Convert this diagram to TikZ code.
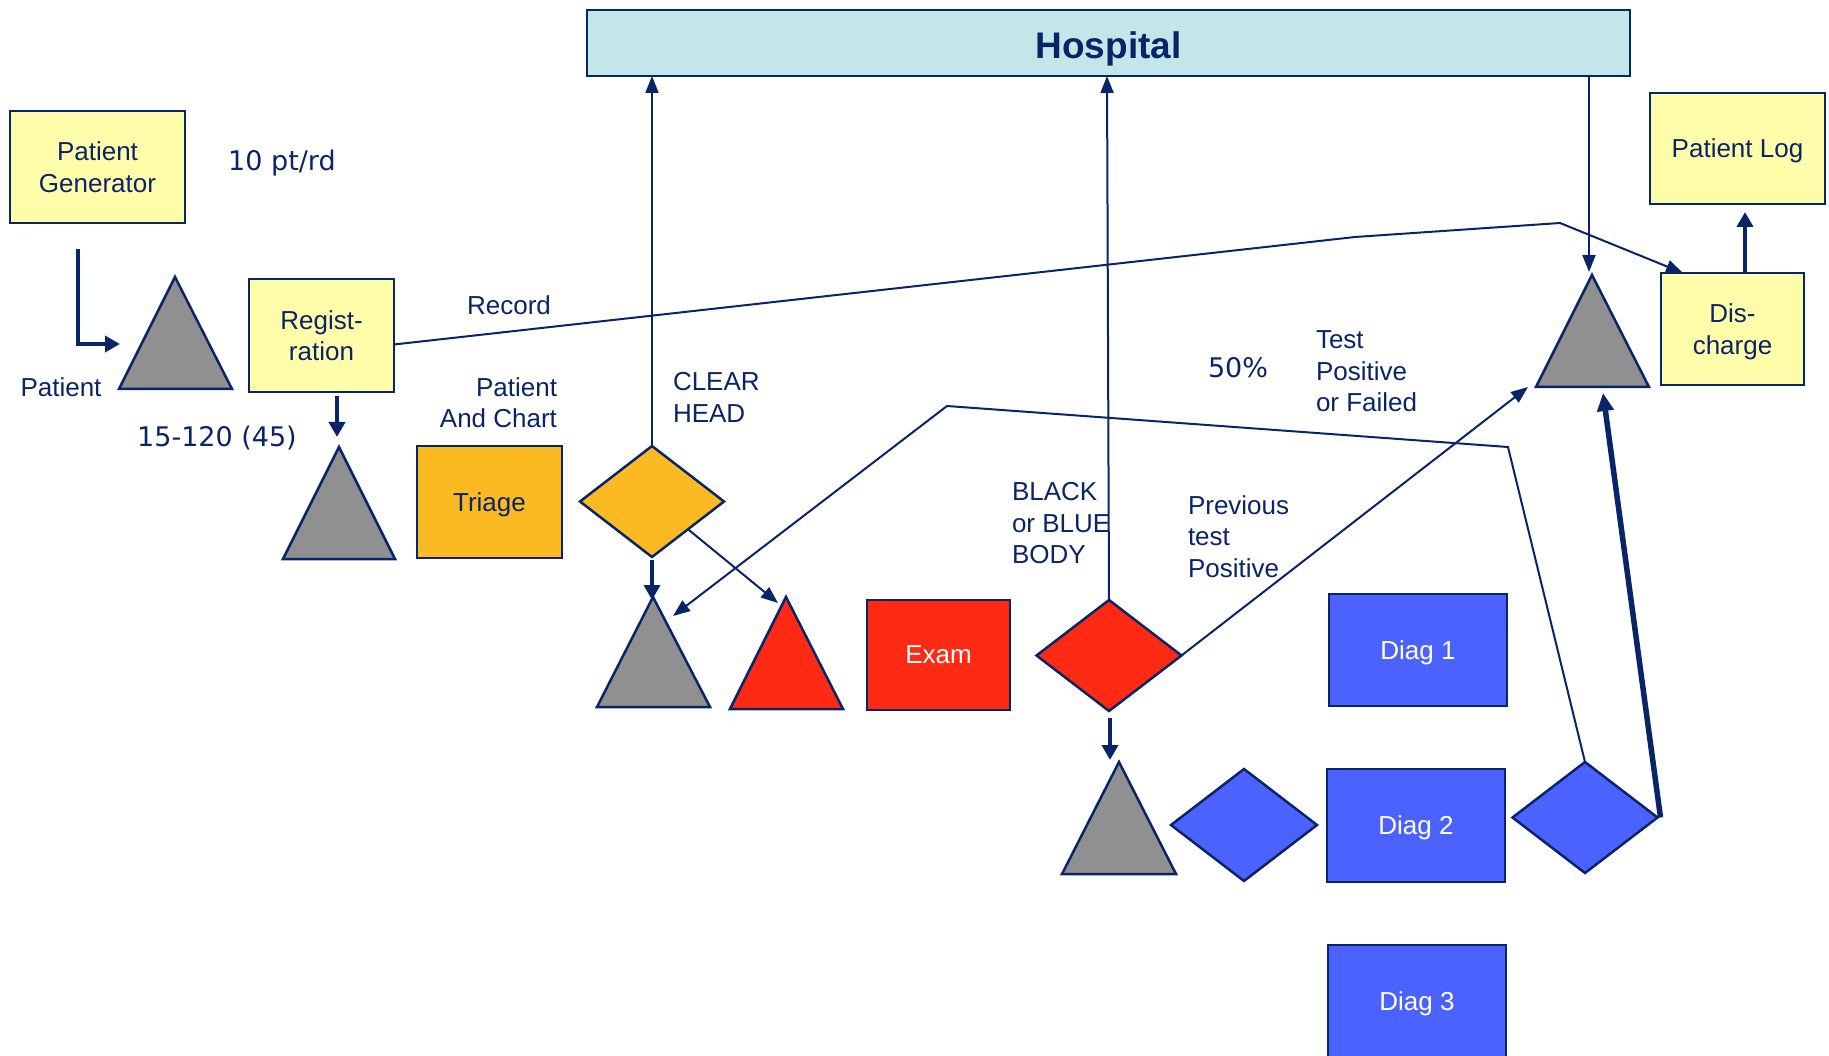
\documentclass[tikz,border=0pt]{standalone}
\usepackage{fontspec}
\setmainfont{Liberation Sans}
\newfontfamily\comicf{DejaVu Sans}
\usetikzlibrary{arrows.meta,shapes.geometric}
\definecolor{navy}{HTML}{0A2468}
\definecolor{ylw}{HTML}{FFFCAA}
\definecolor{hosp}{HTML}{C3E6E8}
\definecolor{orng}{HTML}{FCBA22}
\definecolor{redc}{HTML}{FF2A14}
\definecolor{bluec}{HTML}{4C62FF}
\definecolor{grayc}{HTML}{909090}
\begin{document}
\begin{tikzpicture}[x=1pt,y=-1pt,
  every node/.style={text=navy, font=\fontsize{26}{31.5}\selectfont, inner sep=0pt, outer sep=0pt},
  box/.style={draw=navy, line width=2.5pt, align=center, text depth=0pt},
  dia/.style={diamond, draw=navy, line width=2.5pt},
  tri/.style={draw=navy, line width=2.5pt, fill=grayc, line join=miter},
  thinar/.style={draw=navy, line width=2pt, -{Triangle[length=17pt,width=13pt]}},
  thickar/.style={draw=navy, line width=4.5pt, -{Triangle[length=15pt,width=16pt]}},
  thickerar/.style={draw=navy, line width=5.5pt, -{Triangle[length=18pt,width=16pt]}},
  comic/.style={font=\comicf\fontsize{27}{32}\selectfont}
]
\useasboundingbox (0,0) rectangle (1829,1056);
\clip (0,0) rectangle (1829,1056);

% boxes
\node[box, fill=hosp, minimum width=1043pt, minimum height=66pt] (hosp) at (1108.5,43) {};
\node[font=\bfseries\fontsize{37}{40}\selectfont] (hosptext) at ([yshift=-6pt]hosp.center) {Hospital};
\node[box, fill=ylw, minimum width=175pt, minimum height=112pt] (gen) at (97.5,167) {Patient\\Generator};
\node[box, fill=ylw, minimum width=145pt, minimum height=113pt] (reg) at (321.5,335.5) {Regist-\\ration};
\node[box, fill=orng, minimum width=145pt, minimum height=112pt] (triage) at (489.5,502) {Triage};
\node[box, fill=redc, minimum width=143pt, minimum height=110pt, text=white] (exam) at (938.5,655) {Exam};
\node[box, fill=bluec, minimum width=178pt, minimum height=112pt, text=white] (d1) at (1418,650) {Diag 1};
\node[box, fill=bluec, minimum width=178pt, minimum height=113pt, text=white] (d2) at (1416,825.5) {Diag 2};
\node[box, fill=bluec, minimum width=178pt, minimum height=112pt, text=white] (d3) at (1417,1001) {Diag 3};
\node[box, fill=ylw, minimum width=175pt, minimum height=111pt] (log) at (1737.5,148.5) {Patient Log};
\node[box, fill=ylw, minimum width=143pt, minimum height=112pt] (dis) at (1732.5,329) {Dis-\\charge};

% diamonds
\node[dia, fill=orng, minimum width=144pt, minimum height=111pt] (ydia) at (652,501.5) {};
\node[dia, fill=redc, minimum width=145pt, minimum height=111pt] (rdia) at (1109,655.5) {};
\node[dia, fill=bluec, minimum width=146pt, minimum height=112pt] (bdia1) at (1244,825) {};
\node[dia, fill=bluec, minimum width=145pt, minimum height=111pt] (bdia2) at (1585,817.5) {};

% triangles (queues)
\draw[tri] (119,389) -- (175,277) -- (232,389) -- cycle;
\draw[tri] (283,559) -- (339,447) -- (395,559) -- cycle;
\draw[tri] (597,707) -- (653,597) -- (710,707) -- cycle;
\draw[tri, fill=redc] (730,709) -- (786,597) -- (843,709) -- cycle;
\draw[tri] (1062,874) -- (1119,762) -- (1176,874) -- cycle;
\draw[tri] (1536,387) -- (1592,275) -- (1649,387) -- cycle;

% connector end points
\coordinate (genout) at (78,249);
\coordinate (q1in) at (120,344);
\coordinate (q2in) at (337,437);
\coordinate (q3in) at (652,600);
\coordinate (q3side) at (673,616);
\coordinate (q4in) at (778,603);
\coordinate (q5in) at (1110,760);
\coordinate (q6top) at (1589,272);
\coordinate (q6left) at (1528,387);
\coordinate (q6bot) at (1603,393);
\coordinate (login) at (1745,212);
\coordinate (r1) at (1355,237);
\coordinate (r2) at (1560,223);
\coordinate (b1) at (1508,447);
\coordinate (b2) at (947,406);

% connectors
\draw[thickar] (genout) |- (q1in);
\draw[thickar] (q2in |- reg.south) ++(0,4) -- (q2in);
\draw[thinar] ([yshift=-9pt]reg.east) -- (r1) -- (r2) -- ([xshift=22pt]dis.north west);
\draw[thinar] (ydia.north) -- (ydia.north |- hosp.south);
\draw[thickar] ([yshift=-3pt]ydia.south) -- (q3in);
\draw[thinar] (ydia.south east) -- (q4in);
\draw[thinar] (rdia.north) -- ([xshift=-2pt]rdia.north |- hosp.south);
\draw[thickar] ([yshift=-7pt]q5in |- rdia.south) -- (q5in);
\draw[thinar] (rdia.east) -- (q6left);
\draw[thinar] (q6top |- hosp.south) -- (q6top);
\draw[thickar] (login |- dis.north) -- (login);
\draw[thickerar] ([xshift=3pt]bdia2.east) -- (q6bot);
\draw[thinar] (bdia2.north) -- (b1) -- (b2) -- (q3side);

% labels
\node[comic] (rate) at (282,163) {10 pt/rd};
\node (lpat) at (61,387) {Patient};
\node[comic] (serv) at (217,438) {15-120 (45)};
\node (lrec) at (509,305) {Record};
\node[align=right, anchor=east] (lchart) at (557,402.5) {Patient\\And Chart};
\node[align=left, anchor=west] (lclear) at (673,397.5) {CLEAR\\HEAD};
\node[align=left, anchor=west] (lblack) at (1012,523.5) {BLACK\\or BLUE\\BODY};
\node[align=left, anchor=west] (lprev) at (1188,536.5) {Previous\\test\\Positive};
\node[comic] (lpct) at (1238,368) {50\%};
\node[align=left, anchor=west] (ltest) at (1316,371.5) {Test\\Positive\\or Failed};
\end{tikzpicture}
\end{document}
